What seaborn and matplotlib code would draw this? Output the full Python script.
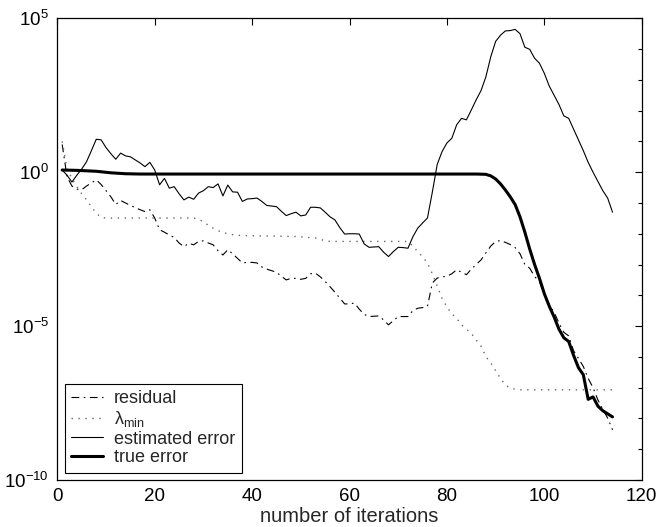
import numpy as np
import pandas as pd
import matplotlib
matplotlib.use("Agg")
import matplotlib.pyplot as plt
from matplotlib.ticker import NullFormatter
import seaborn as sns

# donnees (log10 des valeurs)
est_x = list(range(1, 115))
est_log = [0.07, -0.1, -0.32, -0.1, 0.1, 0.34, 0.7, 1.07, 1.05, 0.8,
           0.6, 0.42, 0.62, 0.53, 0.5, 0.40, 0.3, 0.18, 0.32, 0.07,
           -0.41, -0.2, -0.52, -0.47, -0.7, -0.9, -0.81, -0.88, -0.68, -0.6,
           -0.47, -0.5, -0.38, -0.77, -0.42, -0.64, -0.65, -0.95, -0.87, -0.86,
           -0.84, -0.95, -1.08, -1.1, -1.12, -1.27, -1.41, -1.35, -1.3, -1.42,
           -1.39, -1.14, -1.14, -1.16, -1.3, -1.45, -1.55, -1.8, -2.01, -2.0,
           -2.0, -2.01, -2.33, -2.44, -2.43, -2.42, -2.6, -2.74, -2.58, -2.44,
           -2.45, -2.47, -2.1, -1.82, -1.65, -1.49, -0.65, 0.25, 0.67, 0.95,
           1.1, 1.54, 1.75, 1.7, 2.02, 2.35, 2.65, 3.1, 3.75, 4.25,
           4.45, 4.59, 4.6, 4.64, 4.5, 4.06, 3.99, 3.7, 3.54, 3.21,
           2.8, 2.5, 2.2, 1.83, 1.75, 1.4, 1.05, 0.7, 0.32, 0.0,
           -0.3, -0.6, -0.84, -1.3]

res_x = list(range(1, 115))
res_log = [0.9, -0.15, -0.45, -0.55, -0.57, -0.45, -0.35, -0.25, -0.4, -0.6,
           -0.8, -1.05, -0.92, -1.0, -1.08, -1.15, -1.22, -1.28, -1.22, -1.49,
           -1.87, -1.95, -2.04, -2.12, -2.3, -2.42, -2.31, -2.36, -2.25, -2.23,
           -2.3, -2.36, -2.55, -2.69, -2.52, -2.65, -2.8, -2.95, -2.93, -2.93,
           -2.95, -3.08, -3.15, -3.2, -3.25, -3.38, -3.5, -3.45, -3.45, -3.48,
           -3.45, -3.3, -3.28, -3.4, -3.55, -3.72, -3.9, -4.09, -4.28, -4.28,
           -4.25, -4.45, -4.62, -4.69, -4.68, -4.67, -4.8, -4.96, -4.82, -4.69,
           -4.69, -4.69, -4.5, -4.42, -4.4, -4.36, -3.6, -3.44, -3.4, -3.38,
           -3.3, -3.17, -3.25, -3.33, -3.15, -3.0, -2.85, -2.62, -2.4, -2.25,
           -2.22, -2.28, -2.35, -2.45, -2.65, -3.0, -3.12, -3.39, -3.55, -4.0,
           -4.3, -4.55, -4.9, -5.2, -5.32, -5.8, -6.05, -6.31, -6.7, -7.0,
           -7.4, -7.7, -7.99, -8.37]

lam_x = [1, 2, 3, 4, 5, 6, 7, 8, 9, 10, 28, 29, 30, 31, 32, 33, 34, 35, 36, 37,
         38, 49, 50, 53, 54, 55, 56, 72, 73, 74, 75, 76, 77, 78, 79, 80, 81, 82,
         83, 84, 85, 86, 87, 88, 89, 90, 91, 92, 93, 94, 95, 114]
lam_log = [1.0, 0.1, -0.2, -0.47, -0.7, -0.9, -1.12, -1.33, -1.47, -1.49,
           -1.49, -1.52, -1.62, -1.72, -1.82, -1.9, -1.96, -2.0, -2.03, -2.05,
           -2.06, -2.09, -2.1, -2.14, -2.18, -2.23, -2.25, -2.25, -2.4, -2.58,
           -2.75, -2.95, -3.3, -3.7, -4.1, -4.38, -4.6, -4.75, -4.96, -5.1,
           -5.23, -5.45, -5.65, -5.99, -6.2, -6.45, -6.7, -6.92, -7.01, -7.05,
           -7.07, -7.07]

true_x = [1, 4, 8, 11, 14, 17, 30, 60, 86, 88, 89, 90, 91, 92, 93, 94, 95, 96,
          97, 98, 99, 100, 101, 102, 103, 104, 105, 106, 107, 108, 109, 110,
          111, 112, 113, 114]
true_log = [0.07, 0.06, 0.03, -0.02, -0.05, -0.06, -0.06, -0.06, -0.06, -0.07,
            -0.12, -0.22, -0.38, -0.58, -0.8, -1.05, -1.45, -1.95, -2.5, -3.0,
            -3.45, -3.95, -4.35, -4.7, -5.1, -5.38, -5.5, -5.95, -6.35, -6.58,
            -7.38, -7.3, -7.6, -7.75, -7.85, -7.95]

sns.set_style("white")
plt.rcParams['font.family'] = ['Liberation Sans', 'DejaVu Sans']
plt.rcParams['mathtext.fontset'] = 'custom'
plt.rcParams['mathtext.rm'] = 'Liberation Sans'
plt.rcParams['mathtext.it'] = 'Liberation Sans:italic'
plt.rcParams['mathtext.sf'] = 'Liberation Sans'

fig = plt.figure(figsize=(6.58, 5.27), dpi=100, facecolor='white')
ax = fig.add_axes([0.0871, 0.0892, 0.8882, 0.8761])

sns.lineplot(x=res_x, y=10.0 ** np.array(res_log), ax=ax, color='black',
             linewidth=0.8, linestyle=(0, (7, 4, 1.5, 4)), label='residual')
sns.lineplot(x=lam_x, y=10.0 ** np.array(lam_log), ax=ax, color='#666666',
             linewidth=1.0, linestyle=(0, (1, 4)),
             label=r'$\mathrm{\lambda}_{\mathrm{min}}$')
sns.lineplot(x=est_x, y=10.0 ** np.array(est_log), ax=ax, color='black',
             linewidth=0.8, label='estimated error')
sns.lineplot(x=true_x, y=10.0 ** np.array(true_log), ax=ax, color='black',
             linewidth=2.2, label='true error')

ax.set_yscale('log')
ax.set_xlim(0, 120)
ax.set_ylim(1e-10, 1e5)
ax.set_xticks([0, 20, 40, 60, 80, 100, 120])
ax.set_yticks([1e-10, 1e-5, 1e0, 1e5])
ax.set_yticklabels(['$10^{-10}$', '$10^{-5}$', '$10^{0}$', '$10^{5}$'])
ax.set_yticks([10.0 ** k for k in range(-10, 6)], minor=True)
ax.yaxis.set_minor_formatter(NullFormatter())
ax.tick_params(which='both', direction='in', top=True, right=True,
               labelsize=13.5, colors='black', width=0.8)
ax.tick_params(which='major', length=5, pad=6)
ax.tick_params(which='minor', length=3)
for s in ax.spines.values():
    s.set_color('black')
    s.set_linewidth(0.9)

ax.set_xlabel('number of iterations', fontsize=14.5, labelpad=1)
ax.set_ylabel('')

leg = ax.legend(loc='lower left', fontsize=13, frameon=True, fancybox=False,
                edgecolor='black', framealpha=1, borderaxespad=0.4,
                handlelength=1.8, labelspacing=0.1, borderpad=0.35,
                handletextpad=0.6)
leg.get_frame().set_linewidth(0.8)

fig.savefig('out.png', dpi=100, facecolor='white')
